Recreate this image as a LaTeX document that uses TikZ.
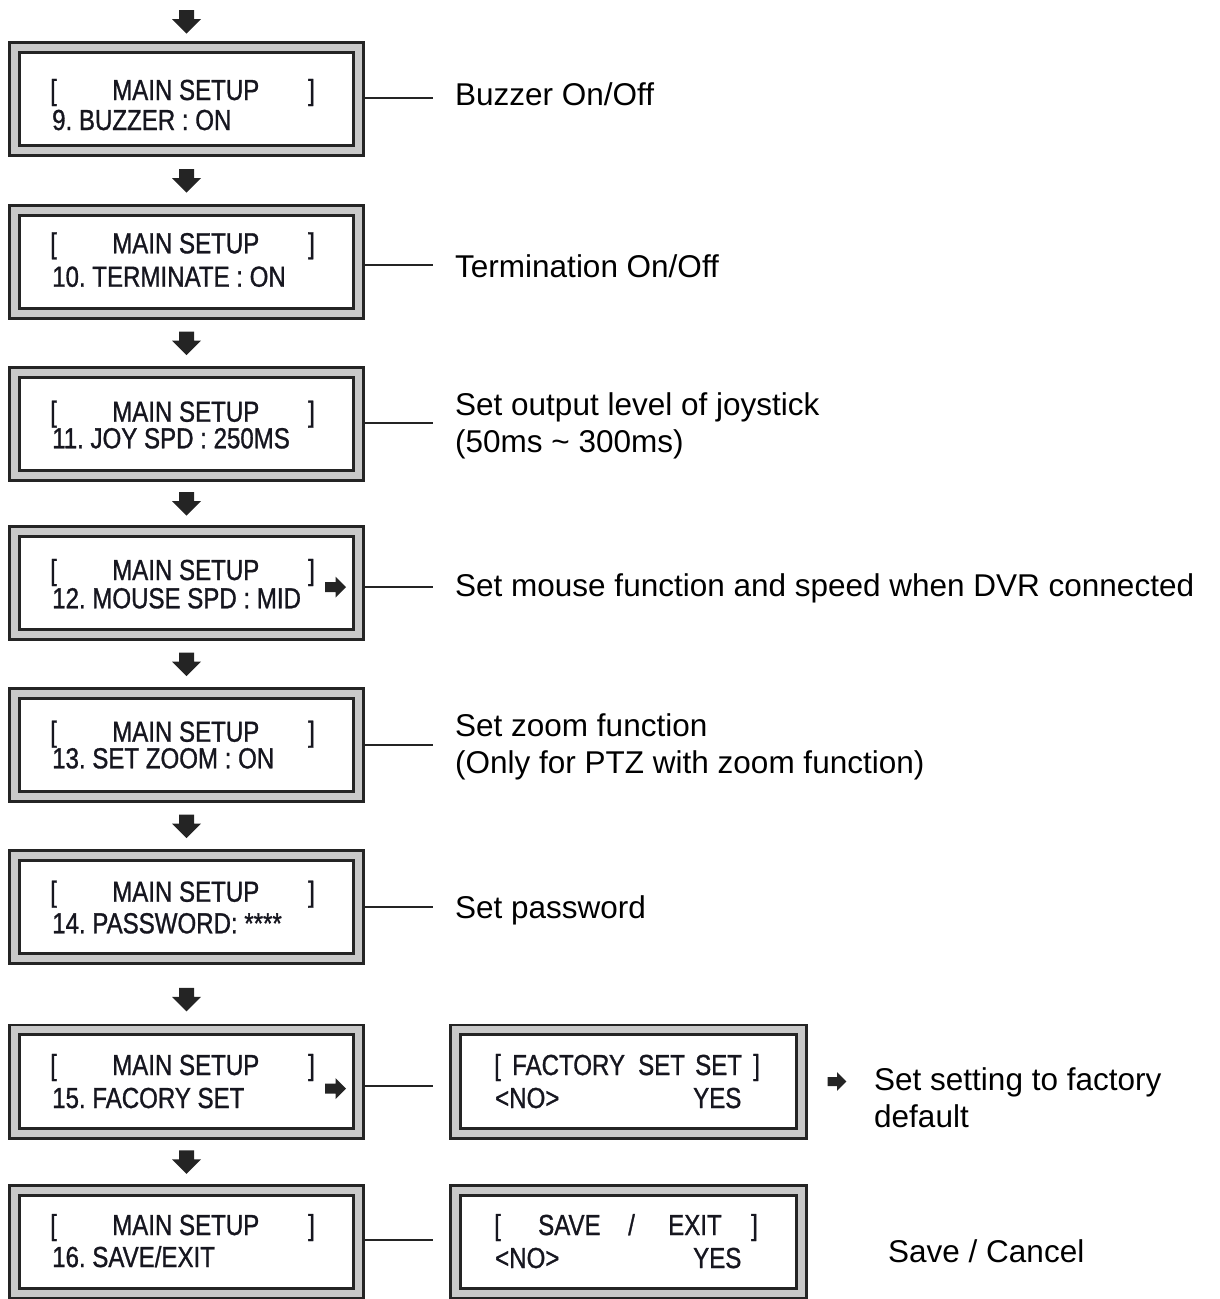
\documentclass[tikz,border=0pt]{standalone}
\usepackage{fontspec}
\setmainfont{Liberation Sans}
\newfontfamily\lcdfont[FakeStretch=0.83,FakeBold=1]{Liberation Sans}
\usetikzlibrary{calc}
\definecolor{frameC}{HTML}{242424}
\definecolor{bandC}{HTML}{C9C9C9}
\definecolor{txtC}{HTML}{16161F}
\frenchspacing
\tikzset{
  lcd/.style={draw=frameC, double=bandC, double distance=7pt, line width=2.8pt,
    fill=white, inner sep=0pt, outer sep=6.3pt, minimum height=103.4pt},
  lcdL/.style={lcd, minimum width=344.4pt},
  lcdR/.style={lcd, minimum width=346.4pt},
  lt/.style={anchor=base west, inner sep=0pt, text=txtC,
    font=\lcdfont\fontsize{29}{33}\selectfont},
  desc/.style={anchor=base west, inner sep=0pt, text=black,
    font=\fontsize{31.5}{37}\selectfont},
  conn/.style={draw=frameC, line width=2.8pt},
  downarr/.pic={\fill[frameC] (-7.5,-11.5) -- (7.5,-11.5) -- (7.5,-2.5) -- (14.5,-2.5)
    -- (0,12) -- (-14.5,-2.5) -- (-7.5,-2.5) -- cycle;},
  rightarr/.pic={\fill[frameC] (-10.5,-5) -- (0,-5) -- (0,-10.5) -- (10.5,0)
    -- (0,10.5) -- (0,5) -- (-10.5,5) -- cycle;},
}
\newcommand\mainsetup[4]{%
  \node[lt] (b#1l) at (50,#2) {[};
  \node[lt] (b#1m) at (112,#2) {MAIN SETUP};
  \node[lt] (b#1r) at (308,#2) {]};
  \node[lt] (b#1s) at (52,#3) {#4};
}
\begin{document}
\begin{tikzpicture}[x=1pt,y=-1pt]
\useasboundingbox (0,0) rectangle (1220,1299);

% left column boxes
\node[lcdL] (b1) at (186.5,99) {};
\node[lcdL] (b2) at (186.5,262) {};
\node[lcdL] (b3) at (186.5,424) {};
\node[lcdL] (b4) at (186.5,583) {};
\node[lcdL] (b5) at (186.5,745) {};
\node[lcdL] (b6) at (186.5,907) {};
\node[lcdL] (b7) at (186.5,1081.5) {};
\node[lcdL] (b8) at (186.5,1242) {};
% right boxes
\node[lcdR] (r7) at (628.5,1081.5) {};
\node[lcdR] (r8) at (628.5,1242) {};

% box texts
\mainsetup{1}{100}{130}{9. BUZZER : ON}
\mainsetup{2}{253.3}{286.7}{10. TERMINATE : ON}
\mainsetup{3}{421.7}{448.3}{11. JOY SPD : 250MS}
\mainsetup{4}{580}{608.3}{12. MOUSE SPD : MID}
\mainsetup{5}{741.7}{768.3}{13. SET ZOOM : ON}
\mainsetup{6}{901.7}{933.3}{14. PASSWORD: ****}
\mainsetup{7}{1075}{1108}{15. FACORY SET}
\mainsetup{8}{1235}{1267}{16. SAVE/EXIT}

\node[lt] (r7a) at (494,1075) {[};
\node[lt] (r7b) at (512,1075) {FACTORY};
\node[lt] (r7c) at (638,1075) {SET};
\node[lt] (r7d) at (695,1075) {SET};
\node[lt] (r7e) at (753,1075) {]};
\node[lt] (r7f) at (495,1108) {<NO>};
\node[lt] (r7g) at (693,1108) {YES};

\node[lt] (r8a) at (494,1235) {[};
\node[lt] (r8b) at (538,1235) {SAVE};
\node[lt] (r8c) at (628,1235) {/};
\node[lt] (r8d) at (668,1235) {EXIT};
\node[lt] (r8e) at (751,1235) {]};
\node[lt] (r8f) at (495,1268) {<NO>};
\node[lt] (r8g) at (693,1268) {YES};

% down arrows
\pic at ($(b1.north)+(0,-19.5)$) {downarr};
\pic at ($(b1.south)!0.5!(b2.north)$) {downarr};
\pic at ($(b2.south)!0.5!(b3.north)$) {downarr};
\pic at ($(b3.south)!0.5!(b4.north)$) {downarr};
\pic at ($(b4.south)!0.5!(b5.north)$) {downarr};
\pic at ($(b5.south)!0.5!(b6.north)$) {downarr};
\pic at ($(b6.south)!0.5!(b7.north)+(0,5)$) {downarr};
\pic at ($(b7.south)!0.5!(b8.north)$) {downarr};

% right arrows
\pic at (335.5,587) {rightarr};
\pic at (335.5,1088.5) {rightarr};
\pic[scale=0.9] at (837,1081.5) {rightarr};

% connectors
\coordinate (e1) at (433,98);
\coordinate (e2) at (433,265);
\coordinate (e3) at (433,423);
\coordinate (e4) at (433,587);
\coordinate (e5) at (433,745);
\coordinate (e6) at (433,907);
\coordinate (e7) at (433,1086);
\coordinate (e8) at (433,1240);
\foreach \i in {1,...,8} {\draw[conn] (b\i.east |- e\i) -- (e\i);}

% descriptions
\node[desc] (d1) at (455,105.5) {Buzzer On/Off};
\node[desc] (d2) at (455,277) {Termination On/Off};
\node[desc] (d3) at (455,415) {\begin{tabular}[t]{@{}l@{}}Set output level of joystick\\(50ms \textasciitilde{} 300ms)\end{tabular}};
\node[desc] (d4) at (455,596) {Set mouse function and speed when DVR connected};
\node[desc] (d5) at (455,736) {\begin{tabular}[t]{@{}l@{}}Set zoom function\\(Only for PTZ with zoom function)\end{tabular}};
\node[desc] (d6) at (455,918) {Set password};
\node[desc] (d7) at (874,1090) {\begin{tabular}[t]{@{}l@{}}Set setting to factory\\default\end{tabular}};
\node[desc] (d8) at (888,1262) {Save / Cancel};
\end{tikzpicture}
\end{document}
